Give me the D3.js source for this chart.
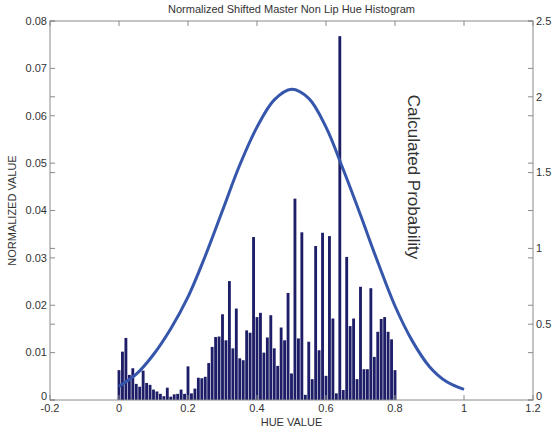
<!DOCTYPE html>
<html>
<head>
<meta charset="utf-8">
<script src="https://cdn.jsdelivr.net/npm/d3@7"></script>
<style>
  body { margin: 0; background: #fff; }
  text { font-family: "Liberation Sans", Arial, sans-serif; fill: #333; }
</style>
</head>
<body>
<div id="app"></div>
<script>
var width = 552;
var height = 434;

// histogram: bin centres 0, 0.01, ... 0.80
var hueBins = d3.range(81).map(function(i) { return i / 100; });
var normValues = [
  0.0063, 0.0102, 0.0131, 0.0053, 0.0067, 0.0034, 0.0028, 0.0062, 0.0036, 0.0032,
  0.0022, 0.0018, 0.0013, 0.0008, 0.0026, 0.0007, 0.0012, 0.0013, 0.0022, 0.0013,
  0.0071, 0.0014, 0.0024, 0.0047, 0.0046, 0.0049, 0.0078, 0.0112, 0.0133, 0.0134,
  0.0181, 0.0126, 0.0251, 0.0109, 0.0193, 0.0088, 0.0084, 0.0147, 0.0142, 0.0344,
  0.0175, 0.0184, 0.0100, 0.0132, 0.0179, 0.0109, 0.0072, 0.0153, 0.0126, 0.0226,
  0.0056, 0.0425, 0.0130, 0.0354, 0.0011, 0.0123, 0.0044, 0.0325, 0.0105, 0.0353,
  0.0051, 0.0346, 0.0172, 0.0014, 0.0768, 0.0021, 0.0302, 0.0156, 0.0172, 0.0044,
  0.0239, 0.0065, 0.0065, 0.0236, 0.0091, 0.0144, 0.0171, 0.0175, 0.0144, 0.0128,
  0.0063
];

// calculated probability curve (right axis)
var curveHue = [0, 0.05, 0.1, 0.15, 0.2, 0.25, 0.3, 0.35, 0.4, 0.45, 0.5,
                0.55, 0.6, 0.65, 0.7, 0.75, 0.8, 0.85, 0.9, 0.95, 1];
var curveProb = [0.09, 0.17, 0.30, 0.47, 0.68, 0.95, 1.25, 1.55, 1.80, 1.98, 2.05,
                 1.99, 1.80, 1.52, 1.22, 0.91, 0.62, 0.39, 0.22, 0.12, 0.07];

var xTicks = [-0.2, 0, 0.2, 0.4, 0.6, 0.8, 1, 1.2];
var xTickLabels = ["-0.2", "0", "0.2", "0.4", "0.6", "0.8", "1", "1.2"];
var yTicks = [0, 0.01, 0.02, 0.03, 0.04, 0.05, 0.06, 0.07, 0.08];
var yTickLabels = ["0", "0.01", "0.02", "0.03", "0.04", "0.05", "0.06", "0.07", "0.08"];
var y2Ticks = [0, 0.5, 1, 1.5, 2, 2.5];
var y2TickLabels = ["0", "0.5", "1", "1.5", "2", "2.5"];

var pLeft = 50, pRight = 533, pTop = 21, pBottom = 400;

var svg = d3.select("#app").append("svg")
    .attr("width", width)
    .attr("height", height);

var x = d3.scaleLinear().domain([-0.2, 1.2]).range([pLeft, pRight]);
var y = d3.scaleLinear().domain([0, 0.08]).range([pBottom, pTop]);
var y2 = d3.scaleLinear().domain([0, 2.5]).range([pBottom, pTop]);

// bars
var bw = x(0.01) - x(0);
svg.append("g").selectAll("rect")
    .data(hueBins)
    .enter().append("rect")
    .attr("x", function(d) { return x(d) - bw / 2 + 0.3; })
    .attr("width", bw - 0.6)
    .attr("y", function(d, i) { return y(normValues[i]); })
    .attr("height", function(d, i) { return pBottom - y(normValues[i]); })
    .attr("fill", "#1e1e68");

// probability curve
var line = d3.line()
    .x(function(d) { return x(d); })
    .y(function(d, i) { return y2(curveProb[i]); })
    .curve(d3.curveCatmullRom);

svg.append("path")
    .attr("d", line(curveHue))
    .attr("fill", "none")
    .attr("stroke", "#3556ab")
    .attr("stroke-width", 3);

// box + ticks
var axisColor = "#8a8a8a";
svg.append("rect")
    .attr("x", pLeft).attr("y", pTop)
    .attr("width", pRight - pLeft).attr("height", pBottom - pTop)
    .attr("fill", "none").attr("stroke", axisColor).attr("stroke-width", 1);

var tl = 5;
var ticks = svg.append("g").attr("stroke", axisColor).attr("stroke-width", 1);
xTicks.forEach(function(t) {
  ticks.append("line").attr("x1", x(t)).attr("x2", x(t)).attr("y1", pBottom).attr("y2", pBottom - tl);
  ticks.append("line").attr("x1", x(t)).attr("x2", x(t)).attr("y1", pTop).attr("y2", pTop + tl);
});
yTicks.forEach(function(t) {
  ticks.append("line").attr("x1", pLeft).attr("x2", pLeft + tl).attr("y1", y(t)).attr("y2", y(t));
  ticks.append("line").attr("x1", pRight).attr("x2", pRight - tl).attr("y1", y(t)).attr("y2", y(t));
});
y2Ticks.forEach(function(t) {
  ticks.append("line").attr("x1", pLeft).attr("x2", pLeft + tl).attr("y1", y2(t)).attr("y2", y2(t));
  ticks.append("line").attr("x1", pRight).attr("x2", pRight - tl).attr("y1", y2(t)).attr("y2", y2(t));
});

// tick labels
svg.append("g").selectAll("text")
    .data(xTicks)
    .enter().append("text")
    .attr("x", function(d) { return x(d); })
    .attr("y", pBottom + 12)
    .attr("text-anchor", "middle")
    .attr("font-size", 11)
    .text(function(d, i) { return xTickLabels[i]; });

svg.append("g").selectAll("text")
    .data(yTicks)
    .enter().append("text")
    .attr("x", pLeft - 3)
    .attr("y", function(d) { return y(d) - (d === 0 ? 4 : 0); })
    .attr("dy", "0.35em")
    .attr("text-anchor", "end")
    .attr("font-size", 11)
    .text(function(d, i) { return yTickLabels[i]; });

svg.append("g").selectAll("text")
    .data(y2Ticks)
    .enter().append("text")
    .attr("x", pRight + 3)
    .attr("y", function(d) { return y2(d) - (d === 0 ? 4 : 0); })
    .attr("dy", "0.35em")
    .attr("text-anchor", "start")
    .attr("font-size", 11)
    .text(function(d, i) { return y2TickLabels[i]; });

// titles
svg.append("text")
    .attr("x", (pLeft + pRight) / 2).attr("y", 13)
    .attr("text-anchor", "middle").attr("font-size", 11)
    .text("Normalized Shifted Master Non Lip Hue Histogram");

svg.append("text")
    .attr("x", (pLeft + pRight) / 2).attr("y", 426)
    .attr("text-anchor", "middle").attr("font-size", 11)
    .text("HUE VALUE");

svg.append("text")
    .attr("transform", "translate(16," + ((pTop + pBottom) / 2) + ") rotate(-90)")
    .attr("text-anchor", "middle").attr("font-size", 11)
    .text("NORMALIZED VALUE");

svg.append("text")
    .attr("transform", "translate(408,177) rotate(90)")
    .attr("text-anchor", "middle").attr("font-size", 17)
    .text("Calculated Probability");
</script>
</body>
</html>
